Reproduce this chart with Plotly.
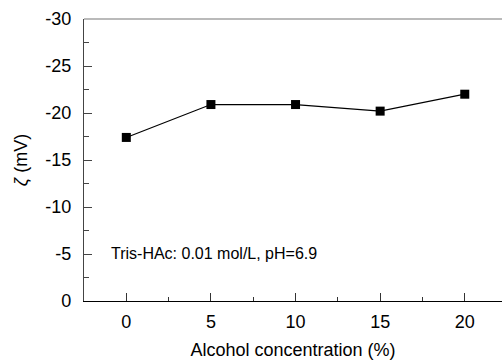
import plotly.graph_objects as go

concentration = [0, 5, 10, 15, 20]
zeta = [-17.4, -20.9, -20.9, -20.2, -22.0]
x_ticks = [0, 5, 10, 15, 20]
y_ticks = [0, -5, -10, -15, -20, -25, -30]
y_tick_text = ["0", "-5", "-10", "-15", "-20", "-25", "-30"]
note = "Tris-HAc: 0.01 mol/L, pH=6.9"

FONT = "Liberation Sans, Arial, sans-serif"

fig = go.Figure()
fig.add_trace(go.Scatter(
    x=concentration, y=zeta, mode="lines+markers",
    line=dict(color="black", width=1.2),
    marker=dict(symbol="square", size=9, color="black"),
    showlegend=False, hoverinfo="skip",
))

fig.update_layout(
    width=502, height=360,
    margin=dict(l=84, r=0, t=19, b=59),
    plot_bgcolor="white", paper_bgcolor="white",
    font=dict(family=FONT, size=18, color="black"),
    xaxis=dict(
        range=[-2.5, 22.2], tickvals=x_ticks, ticks="inside", ticklen=8,
        tickcolor="#333", showline=True, linecolor="black", linewidth=1.2,
        showgrid=False, zeroline=False, automargin=False,
        minor=dict(dtick=2.5, tick0=0, ticks="inside", ticklen=4, tickcolor="#333"),
        title=dict(text="Alcohol concentration (%)", font=dict(size=18), standoff=12),
        tickfont=dict(size=18), ticklabelstandoff=4,
    ),
    yaxis=dict(
        range=[0, -30], tickvals=y_ticks, ticktext=y_tick_text, ticks="inside", ticklen=8,
        tickcolor="#444", showline=True, linecolor="#444", linewidth=1.2,
        showgrid=False, zeroline=False, automargin=False,
        minor=dict(dtick=2.5, tick0=0, ticks="inside", ticklen=5, tickcolor="#444"),
        title=dict(text="<i>ζ</i> (mV)", font=dict(size=18), standoff=12),
        tickfont=dict(size=18), ticklabelstandoff=8,
    ),
    shapes=[dict(type="line", xref="paper", yref="paper", x0=0, x1=1, y0=1, y1=1,
                 line=dict(color="#777", width=1.2))],
    annotations=[dict(x=-1.05, y=-5.1, xref="x", yref="y", text=note, showarrow=False,
                      xanchor="left", yanchor="middle", font=dict(size=16))],
)

fig.write_html(
    "out.html",
    config={"displayModeBar": False},
    post_script="document.body.style.margin='0';document.body.style.overflow='hidden';",
)
